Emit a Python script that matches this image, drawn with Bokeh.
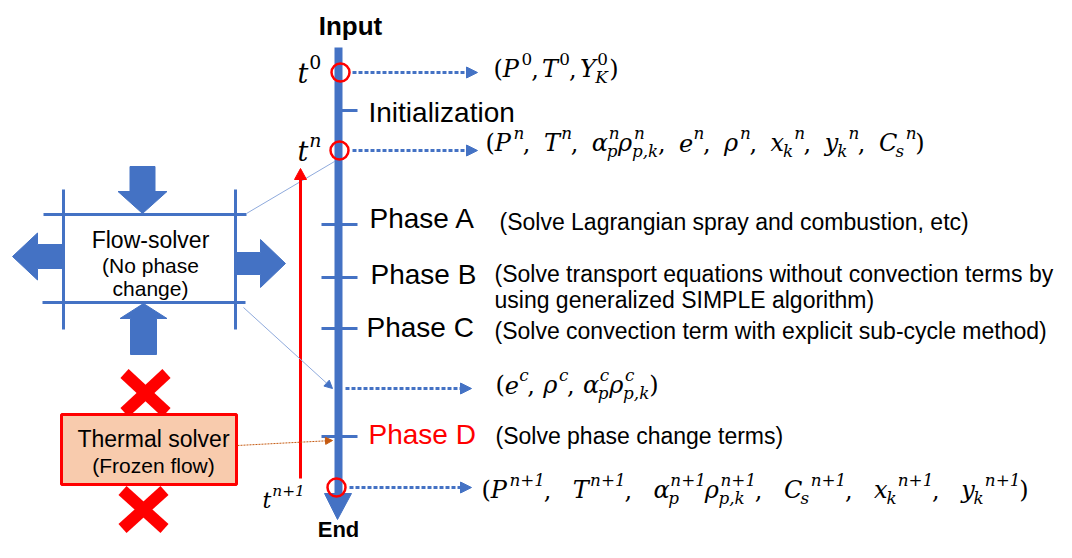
from bokeh.plotting import figure
from bokeh.models import Range1d, ColumnDataSource, Arrow, NormalHead
from bokeh.core.properties import value
from bokeh.embed import file_html
from bokeh.resources import INLINE

BLUE = "#4472C4"
LBLUE = "#8FAADC"
RED = "#FF0000"
ORANGE_FILL = "#F8CBAD"
BROWN = "#C55A11"

# ---------------- texts / data ----------------
top_label = "Input"
bottom_label = "End"
init_label = "Initialization"
phase_names = ["Phase A", "Phase B", "Phase C", "Phase D"]
phase_colors = ["black", "black", "black", RED]
phase_desc_lines = [
    ["(Solve Lagrangian spray and combustion, etc)"],
    ["(Solve transport equations without convection terms by",
     "using generalized SIMPLE algorithm)"],
    ["(Solve convection term with explicit sub-cycle method)"],
    ["(Solve phase change terms)"],
]
flow_solver_lines = ["Flow-solver", "(No phase", "change)"]
thermal_lines = ["Thermal solver", "(Frozen flow)"]

# time labels: (base, sup, sub)
time_labels = [
    [("t", "0", "")],
    [("t", "n", "")],
    [("t", "n+1", "")],
]
# state formulas: tokens (base, sup, sub)
formula_t0 = [("(", "", ""), ("P", "0", ""), (",", "", ""), ("T", "0", ""),
              (",", "", ""), ("Y", "0", "K"), (")", "", "")]
formula_tn = [("(", "", ""), ("P", "n", ""), (",", "", ""), ("T", "n", ""),
              (",", "", ""), ("α", "n", "p"), ("ρ", "n", "p,k"), (",", "", ""),
              ("e", "n", ""), (",", "", ""), ("ρ", "n", ""), (",", "", ""),
              ("x", "", "k"), ("", "n", ""), (",", "", ""), ("y", "", "k"),
              ("", "n", ""), (",", "", ""), ("C", "", "s"), ("", "n", ""),
              (")", "", "")]
formula_tc = [("(", "", ""), ("e", "c", ""), (",", "", ""), ("ρ", "c", ""),
              (",", "", ""), ("α", "c", "p"), ("ρ", "c", "p,k"), (")", "", "")]
formula_tn1 = [("(", "", ""), ("P", "n+1", ""), (",", "", ""), ("T", "n+1", ""),
               (",", "", ""), ("α", "n+1", "p"), ("ρ", "n+1", "p,k"),
               (",", "", ""), ("C", "", "s"), ("", "n+1", ""), (",", "", ""),
               ("x", "", "k"), ("", "n+1", ""), (",", "", ""), ("y", "", "k"),
               ("", "n+1", ""), (")", "", "")]

# ---------------- figure ----------------
p = figure(width=1056, height=542, x_range=Range1d(0, 1056), y_range=Range1d(542, 0),
           output_backend="svg", toolbar_location=None, x_axis_type=None,
           y_axis_type=None, min_border=0, outline_line_color=None,
           background_fill_color="white")

# approximate advance widths (em) for the serif math font
W = {'(': .39, ')': .39, ',': .32, ' ': .30, 'P': .73, 'T': .68, 'Y': .68, 'K': .77,
     'C': .73, 'e': .56, 'x': .56, 'y': .56, 'k': .55, 'n': .62, 'p': .62, 's': .49,
     'c': .53, '0': .64, '1': .64, '+': .84, 'α': .66, 'ρ': .62, 't': .40}


def tw(s):
    return sum(W.get(c, .6) for c in s)


def style_of(s):
    return "italic" if any(c.isalpha() for c in s) else "normal"


def math_rows(tokens, x0, base_y, size, x1=None, sup_off=0.5, sub_off=0.25):
    ss = size * 0.7
    nat = 0.0
    ncomma = 0
    for base, sup, sub in tokens:
        nat += tw(base) * size
        if sup or sub:
            nat += max(tw(sup), tw(sub)) * ss
        if "," in base:
            ncomma += 1
    extra = 0.0 if (x1 is None or ncomma == 0) else (x1 - x0 - nat) / ncomma
    rows = []
    x = x0
    for base, sup, sub in tokens:
        if base:
            rows.append((x, base_y, base, size))
            x += tw(base) * size
        if sup or sub:
            if sup:
                rows.append((x + 1, base_y - sup_off * size, sup, ss))
            if sub:
                rows.append((x - 1, base_y + sub_off * size, sub, ss))
            x += max(tw(sup), tw(sub)) * ss
        if "," in base:
            x += extra
    # convert baselines to visual centres (drawn with text_baseline="middle")
    return [(r[0], r[1] - 0.33 * r[3], r[2], r[3]) for r in rows]


def draw_math(rows, font="DejaVu Serif", color="black"):
    src = ColumnDataSource(dict(
        x=[r[0] for r in rows], y=[r[1] for r in rows], text=[r[2] for r in rows],
        size=["%.1fpx" % r[3] for r in rows], style=[style_of(r[2]) for r in rows]))
    p.text(x="x", y="y", text="text", source=src, text_font=value(font),
           text_font_size="size", text_font_style="style", text_color=color,
           text_baseline="middle", text_align="left")


def block_arrow(tip, d, length, shaft_w, head_w, head_len):
    tx, ty = tip
    dx, dy = d
    nx, ny = -dy, dx
    bx, by = tx - dx * head_len, ty - dy * head_len
    fx, fy = tx - dx * length, ty - dy * length
    xs = [tx, bx + nx * head_w / 2, bx + nx * shaft_w / 2, fx + nx * shaft_w / 2,
          fx - nx * shaft_w / 2, bx - nx * shaft_w / 2, bx - nx * head_w / 2]
    ys = [ty, by + ny * head_w / 2, by + ny * shaft_w / 2, fy + ny * shaft_w / 2,
          fy - ny * shaft_w / 2, by - ny * shaft_w / 2, by - ny * head_w / 2]
    return xs, ys


SANS = value("Liberation Sans")

# ---------------- flow solver ----------------
p.segment(x0=[43, 42, 63, 235], y0=[214, 302, 189, 189],
          x1=[246, 245, 63, 235], y1=[214, 302, 329, 329],
          line_color=BLUE, line_width=3)
arrows = [block_arrow((142, 213), (0, 1), 47, 25, 49, 22),
          block_arrow((143, 303), (0, -1), 51, 26, 47, 15),
          block_arrow((12, 256), (-1, 0), 51, 24, 47, 25),
          block_arrow((285, 263), (1, 0), 50, 22, 48, 25)]
p.patches(xs=[a[0] for a in arrows], ys=[a[1] for a in arrows],
          fill_color=BLUE, line_color=BLUE, line_width=1)
p.text(x=[150, 150, 150], y=[239, 265, 288], text=flow_solver_lines,
       text_font=SANS, text_font_size=["23px", "21px", "21px"],
       text_align="center", text_baseline="middle", text_color="black")

# thin connector lines
p.segment(x0=[246], y0=[213], x1=[334], y1=[161], line_color=LBLUE, line_width=1)
p.add_layout(Arrow(end=NormalHead(size=8, fill_color=BLUE, line_color=BLUE, line_width=1),
                   x_start=243, y_start=307, x_end=332, y_end=388,
                   line_color=LBLUE, line_width=1))

# ---------------- red X marks ----------------
p.segment(x0=[124, 166, 122, 164], y0=[373, 373, 490, 490],
          x1=[166, 124, 164, 122], y1=[412, 412, 528, 528],
          line_color=RED, line_width=12, line_cap="butt")

# ---------------- thermal solver ----------------
p.quad(left=[61], right=[236], top=[414], bottom=[484], fill_color=ORANGE_FILL,
       line_color=RED, line_width=3)
p.text(x=[153, 153], y=[438, 465], text=thermal_lines,
       text_font=SANS, text_font_size=["23px", "21px"],
       text_align="center", text_baseline="middle", text_color="black")
p.add_layout(Arrow(end=NormalHead(size=7, fill_color=BROWN, line_color=BROWN, line_width=1),
                   x_start=237, y_start=445, x_end=332, y_end=440,
                   line_color=BROWN, line_width=1, line_dash="2 1"))

# ---------------- red feedback arrow ----------------
p.segment(x0=[300], y0=[478], x1=[300], y1=[176], line_color=RED, line_width=3)
p.patch(x=[294, 306, 300], y=[179, 179, 168], fill_color=RED, line_color=RED)

# ---------------- main time axis ----------------
p.segment(x0=[338], y0=[47], x1=[338], y1=[495], line_color=BLUE, line_width=8)
p.patch(x=[324, 351, 337], y=[493, 493, 519], fill_color=BLUE, line_color=BLUE)

tick_y = [224, 277, 328, 436]
p.segment(x0=[321] * 4 + [339], y0=tick_y + [110], x1=[357] * 5, y1=tick_y + [110],
          line_color=BLUE, line_width=3)

p.text(x=[350], y=[25], text=[top_label], text_font=SANS,
       text_font_style="bold", text_font_size="26px", text_align="center",
       text_baseline="middle")
p.text(x=[338], y=[529], text=[bottom_label], text_font=SANS,
       text_font_style="bold", text_font_size="22px", text_align="center",
       text_baseline="middle")
p.text(x=[368], y=[112], text=[init_label], text_font=SANS,
       text_font_size="28px", text_baseline="middle")

p.text(x=[369, 370, 366, 368], y=[218, 274, 327, 434], text=phase_names,
       text_font=SANS, text_font_size="28px",
       text_color=phase_colors, text_baseline="middle")

dx = [499, 494, 494, 495]
dy = [[221], [273, 299], [330], [435]]
for lines, x0, ys in zip(phase_desc_lines, dx, dy):
    p.text(x=[x0] * len(lines), y=ys, text=lines, text_font=SANS,
           text_font_size="23px", text_baseline="middle", text_color="black")

# dotted output arrows
for (xs, xe, yy) in [(352, 477, 72), (352, 477, 150), (345, 471, 388), (349, 471, 487)]:
    p.add_layout(Arrow(end=NormalHead(size=11, fill_color=BLUE, line_color=BLUE, line_width=1),
                       x_start=xs, y_start=yy, x_end=xe, y_end=yy,
                       line_color=BLUE, line_width=3, line_dash="4 2"))

# time circles
p.scatter(x=[340, 339, 336], y=[72, 150, 487], size=18, marker="circle",
          fill_color=None, line_color=RED, line_width=2.5)

# time labels
draw_math(math_rows(time_labels[0], 297, 82, 27, sup_off=0.52))
draw_math(math_rows(time_labels[1], 297, 160, 27, sup_off=0.52))
draw_math(math_rows(time_labels[2], 262, 507, 22, sup_off=0.5))

# state formulas
draw_math(math_rows(formula_t0, 493, 76, 24, x1=618))
draw_math(math_rows(formula_tn, 485, 150, 24, x1=924))
draw_math(math_rows(formula_tc, 495, 392, 24, x1=658))
draw_math(math_rows(formula_tn1, 481, 497, 24, x1=1028))

open("out.html", "w").write(file_html(p, INLINE))
